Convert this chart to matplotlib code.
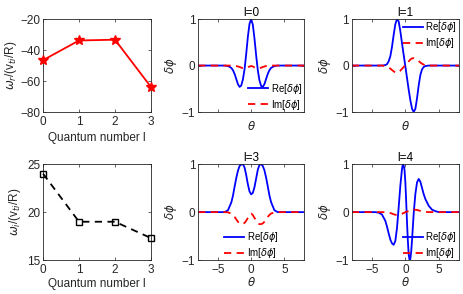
import matplotlib.pyplot as plt

plt.rcParams['font.family'] = ['Liberation Sans', 'DejaVu Sans']
plt.rcParams['mathtext.fontset'] = 'dejavusans'
plt.rcParams['font.size'] = 8

GRAY = '#262626'

# quantum number scan
quantum_l = [0, 1, 2, 3]
omega_r = [-46.5, -33.8, -33.3, -63.8]
omega_i = [24.0, 19.0, 19.0, 17.3]

# eigenfunctions
theta = [-8, -4, -3.5, -3, -2.75, -2.5, -2.25, -2, -1.75, -1.5, -1.25, -1, -0.75, -0.5, -0.25, 0,
         0.25, 0.5, 0.75, 1, 1.25, 1.5, 1.75, 2, 2.25, 2.5, 2.75, 3, 3.5, 4, 8]

re_l0 = [0, 0, -0.01, -0.05, -0.10, -0.18, -0.29, -0.40, -0.46, -0.43, -0.30, -0.08, 0.25, 0.62, 0.90, 1.0,
         0.88, 0.58, 0.22, -0.10, -0.32, -0.44, -0.46, -0.40, -0.29, -0.18, -0.10, -0.05, -0.01, 0, 0]
im_l0 = [0, 0, 0, 0, 0, -0.005, -0.01, -0.02, -0.03, -0.045, -0.055, -0.06, -0.055, -0.04, -0.02, -0.01,
         -0.02, -0.04, -0.06, -0.065, -0.06, -0.045, -0.03, -0.02, -0.01, -0.005, 0, 0, 0, 0, 0]

re_l1 = [0, 0, 0, 0.01, 0.03, 0.09, 0.2, 0.4, 0.66, 0.89, 1.0, 0.95, 0.74, 0.48, 0.23, -0.02,
         -0.27, -0.52, -0.75, -0.93, -1.0, -0.93, -0.7, -0.42, -0.2, -0.08, -0.03, -0.01, 0, 0, 0]
im_l1 = [0, 0, 0, -0.01, -0.02, -0.04, -0.065, -0.095, -0.125, -0.15, -0.155, -0.145, -0.11, -0.07, -0.03, 0.01,
         0.05, 0.09, 0.13, 0.155, 0.16, 0.15, 0.125, 0.095, 0.065, 0.04, 0.02, 0.01, 0, 0, 0]

re_l3 = [0, 0, 0.04, 0.2, 0.34, 0.53, 0.71, 0.86, 0.96, 0.99, 1.0, 0.93, 0.77, 0.58, 0.43, 0.37,
         0.40, 0.52, 0.70, 0.88, 0.98, 1.0, 0.96, 0.87, 0.72, 0.54, 0.35, 0.21, 0.04, 0, 0]
im_l3 = [0, 0, -0.005, -0.03, -0.06, -0.1, -0.15, -0.2, -0.235, -0.25, -0.245, -0.225, -0.18, -0.12, -0.06, -0.03,
         -0.06, -0.12, -0.18, -0.23, -0.25, -0.25, -0.235, -0.2, -0.15, -0.1, -0.06, -0.03, -0.005, 0, 0]

theta4 = [-8, -4.5, -4, -3.5, -3, -2.75, -2.5, -2.25, -2, -1.75, -1.5, -1.25, -1, -0.75, -0.5, -0.375,
          -0.25, -0.125, 0, 0.125, 0.25, 0.375, 0.5, 0.625, 0.75, 0.875, 1, 1.125, 1.25, 1.5, 1.75,
          2, 2.25, 2.5, 2.75, 3, 3.5, 4, 4.5, 5, 8]
re_l4 = [0, 0, -0.01, -0.05, -0.18, -0.3, -0.44, -0.57, -0.65, -0.68, -0.6, -0.33, 0.1, 0.55, 0.9, 1.0,
         0.97, 0.88, 0.62, 0.22, -0.22, -0.6, -0.88, -0.99, -0.97, -0.82, -0.58, -0.3, -0.02, 0.38, 0.62,
         0.69, 0.63, 0.5, 0.37, 0.27, 0.13, 0.05, 0.02, 0, 0]
im_l4 = [0, 0, 0, 0, 0, -0.005, -0.01, -0.02, -0.03, -0.045, -0.055, -0.06, -0.06, -0.05, -0.035, -0.025,
         -0.02, -0.01, 0, 0.005, 0.01, 0.015, 0.02, 0.025, 0.03, 0.035, 0.04, 0.045, 0.05, 0.05, 0.045,
         0.035, 0.025, 0.015, 0.01, 0.005, 0, 0, 0, 0, 0]


def style(ax):
    for s in ax.spines.values():
        s.set_color(GRAY)
        s.set_linewidth(0.6)
    ax.tick_params(direction='in', top=True, right=True, length=2.5, width=0.5,
                   colors=GRAY, labelcolor=GRAY, labelsize=8.5)
    ax.tick_params(axis='x', pad=3)
    ax.tick_params(axis='y', pad=2)


fig = plt.figure(figsize=(4.63, 2.94), dpi=100)

# left column
ax = fig.add_axes([0.093, 0.619, 0.233, 0.316])
ax.plot(quantum_l, omega_r, '-', color='red', lw=1.3, marker='*', ms=7, clip_on=False, zorder=3)
ax.set_xlim(0, 3)
ax.set_ylim(-80, -20)
ax.set_xticks([0, 1, 2, 3])
ax.set_yticks([-80, -60, -40, -20])
ax.set_xlabel('Quantum number l', color=GRAY, fontsize=8.5, labelpad=3)
ax.set_ylabel(r'$\omega_r$/(v$_{ti}$/R)', color=GRAY, fontsize=8.5, labelpad=1)
style(ax)

ax = fig.add_axes([0.093, 0.115, 0.233, 0.327])
ax.plot(quantum_l, omega_i, '--', color='black', lw=1.3, dashes=(4, 3),
        marker='s', ms=4, mfc='none', mew=1.0, clip_on=False, zorder=3)
ax.set_xlim(0, 3)
ax.set_ylim(15, 25)
ax.set_xticks([0, 1, 2, 3])
ax.set_yticks([15, 20, 25])
ax.set_xlabel('Quantum number l', color=GRAY, fontsize=8.5, labelpad=1)
ax.set_ylabel(r'$\omega_i$/(v$_{ti}$/R)', color=GRAY, fontsize=8.5, labelpad=3)
style(ax)

panels = [
    ([0.428, 0.619, 0.229, 0.316], 'l=0', theta, re_l0, im_l0, False, dict(loc='lower right', bbox_to_anchor=(1.02, -0.04))),
    ([0.760, 0.619, 0.231, 0.316], 'l=1', theta, re_l1, im_l1, False, dict(loc='upper right', bbox_to_anchor=(1.02, 1.03))),
    ([0.428, 0.115, 0.229, 0.327], 'l=3', theta, re_l3, im_l3, True, dict(loc='lower center', bbox_to_anchor=(0.5, -0.04))),
    ([0.760, 0.115, 0.231, 0.327], 'l=4', theta4, re_l4, im_l4, True, dict(loc='lower right', bbox_to_anchor=(1.02, -0.04))),
]

for rect, title, th, re, im, show_x, leg in panels:
    ax = fig.add_axes(rect)
    ax.plot(th, re, '-', color='blue', lw=1.3, label=r'Re[$\delta\phi$]')
    ax.plot(th, im, '--', color='red', lw=1.3, dashes=(4, 3), label=r'Im[$\delta\phi$]')
    ax.set_xlim(-8, 8)
    ax.set_ylim(-1, 1)
    ax.set_xticks([-5, 0, 5])
    ax.set_yticks([-1, 0, 1])
    if not show_x:
        ax.set_xticklabels([])
    ax.set_xlabel(r'$\theta$', color=GRAY, fontsize=8.5, labelpad=3 if not show_x else 0)
    ax.set_ylabel(r'$\delta\phi$', color=GRAY, fontsize=8.5, labelpad=2)
    ax.set_title(title, fontsize=8.5, pad=2)
    ax.legend(frameon=False, fontsize=7, handlelength=2.0, handletextpad=0.3,
              labelspacing=0.2, borderpad=0.2, borderaxespad=0.2, **leg)
    style(ax)

fig.savefig('out.png', dpi=100)
